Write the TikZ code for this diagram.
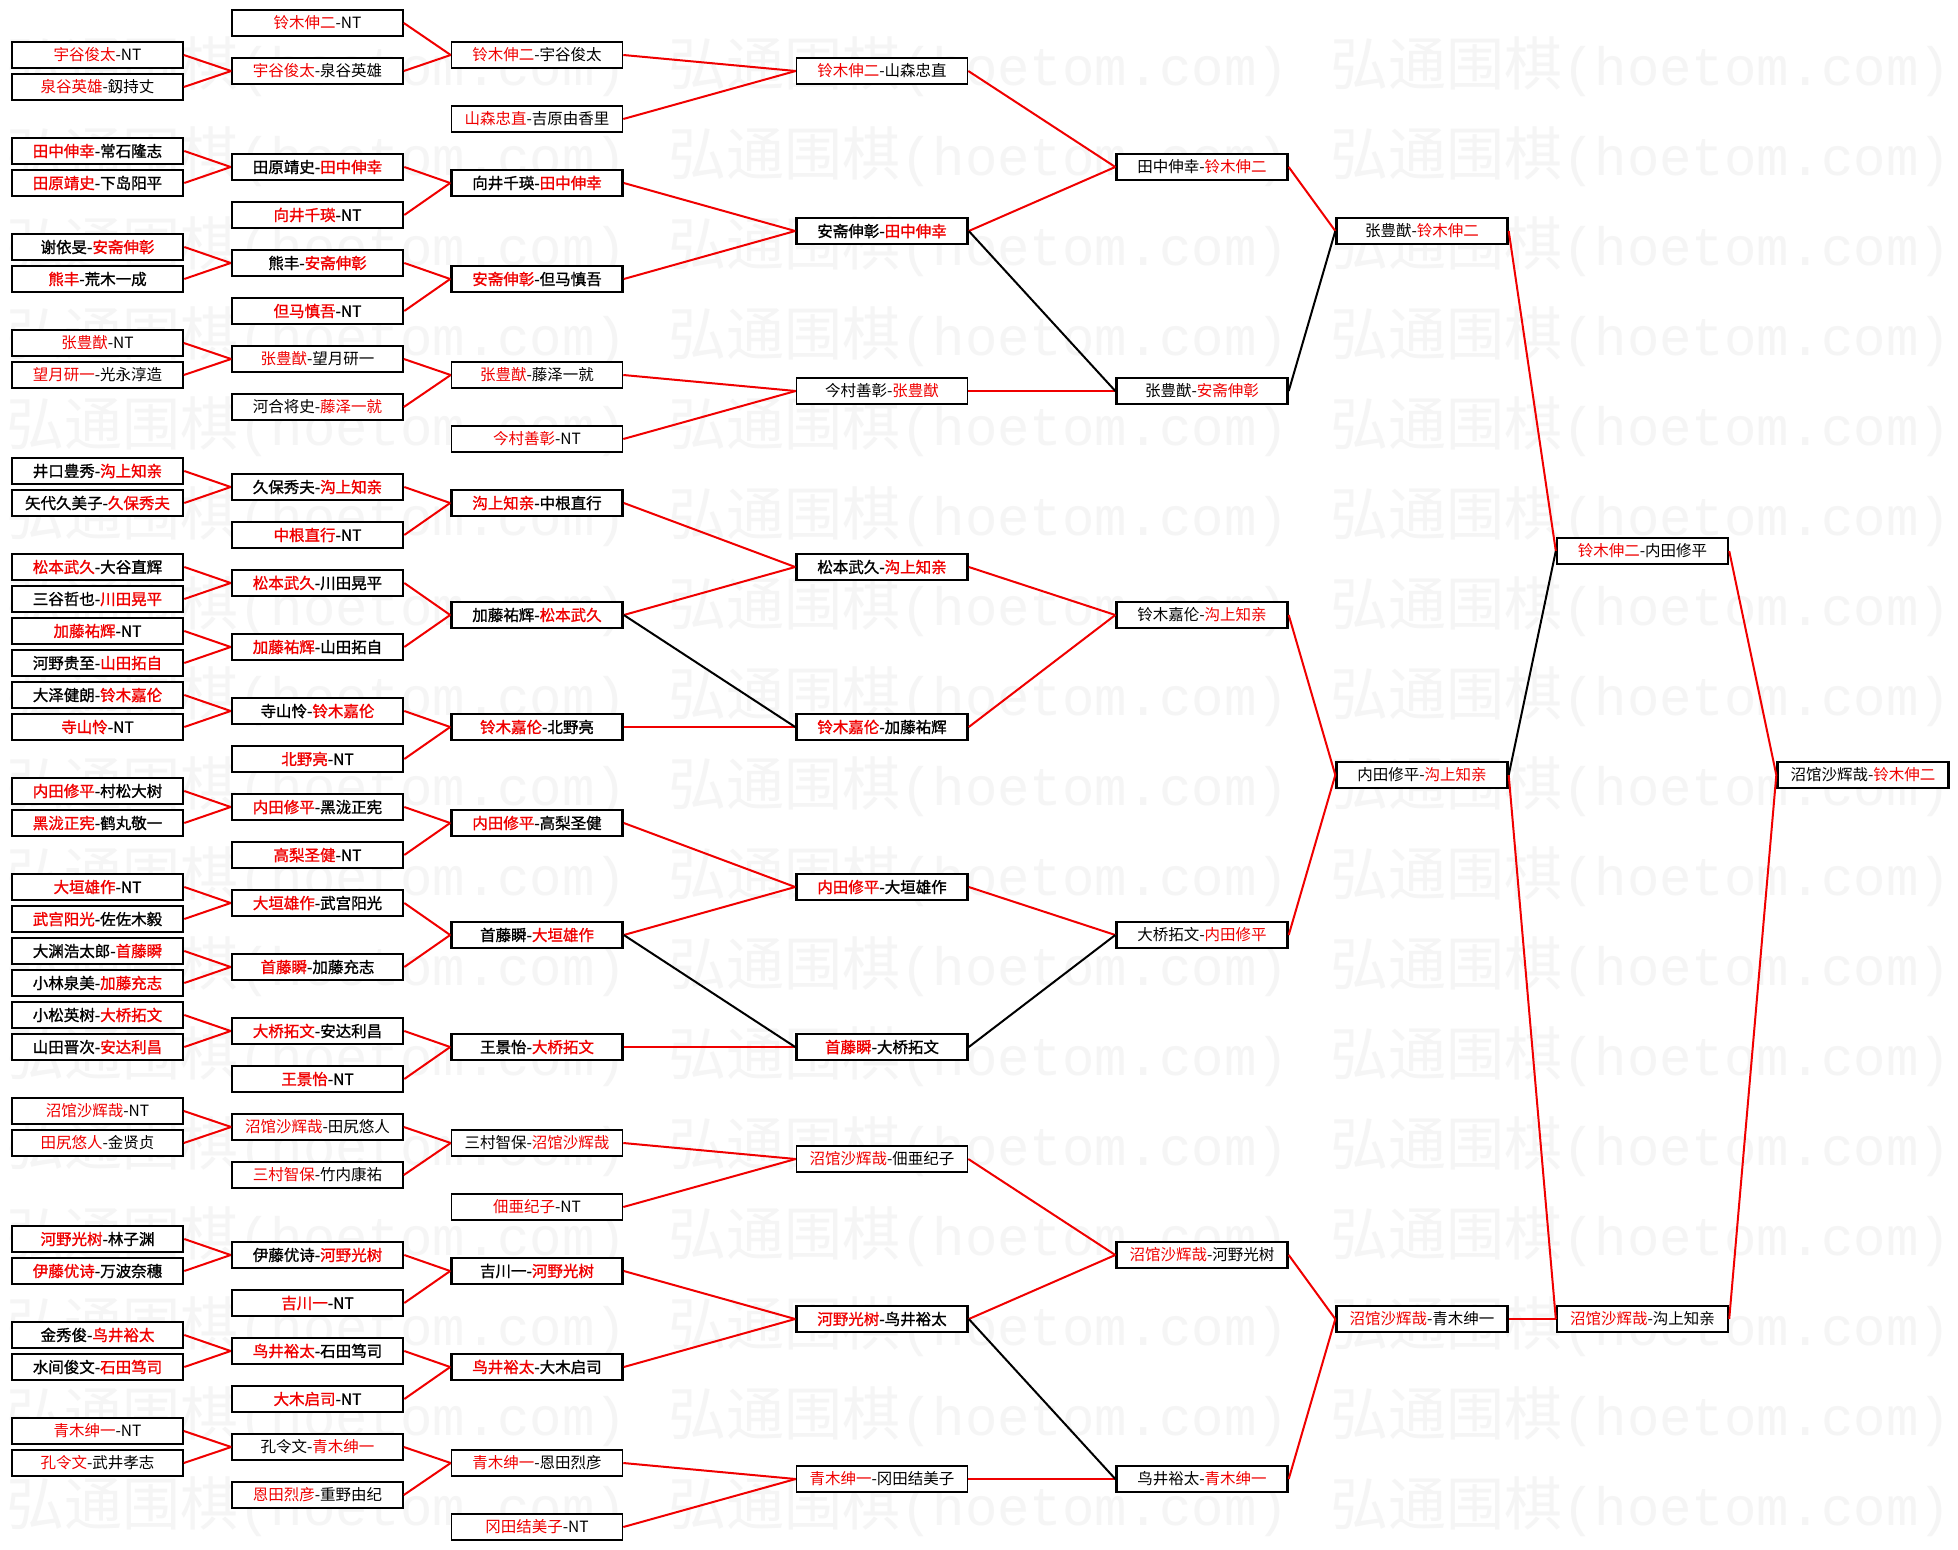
\documentclass[tikz,border=0pt]{standalone}
\usepackage{fontspec}
\newfontfamily\cjkl{Noto Sans CJK SC}
\newfontfamily\cjkb[FakeBold=1.2]{Noto Sans CJK SC}
\newfontfamily\wmmono{Liberation Mono}
\definecolor{wred}{RGB}{240,0,0}
\definecolor{wmark}{RGB}{245,245,245}
\newcommand\rn[1]{\textcolor{wred}{#1}}
\begin{document}
\begin{tikzpicture}[x=1pt,y=-1pt,
  lbox/.style={draw=black, fill=white, line width=1.6pt, minimum width=171pt, minimum height=26pt, inner sep=0pt, font=\cjkl\fontsize{15.5}{16}\selectfont},
  hbox/.style={lbox, line width=2.6pt, font=\cjkb\fontsize{15.5}{16}\selectfont},
  mbox/.style={lbox, line width=2.4pt},
  win/.style={draw=wred, line width=2pt},
  lose/.style={draw=black, line width=2pt},
  wm/.style={anchor=west, inner sep=0pt, text=wmark}
]
\useasboundingbox (0,0) rectangle (1958,1549);
\fill[white] (0,0) rectangle (1958,1549);
% watermark
\foreach \r in {0,...,16}{
  \foreach \x in {6,668,1330}{
    \node[wm] at ({\x},{67+90*\r}) {\cjkl\fontsize{58}{60}\selectfont 弘通围棋\wmmono\fontsize{54}{60}\selectfont (hoetom.com)};
  }
}
% column 1
\node[lbox] (a0) at (97.5,55) {\rn{宇谷俊太}-NT};
\node[lbox] (a1) at (97.5,87) {\rn{泉谷英雄}-釼持丈};
\node[hbox] (a3) at (97.5,151) {\rn{田中伸幸}-常石隆志};
\node[hbox] (a4) at (97.5,183) {\rn{田原靖史}-下岛阳平};
\node[hbox] (a6) at (97.5,247) {谢依旻-\rn{安斋伸彰}};
\node[hbox] (a7) at (97.5,279) {\rn{熊丰}-荒木一成};
\node[lbox] (a9) at (97.5,343) {\rn{张豊猷}-NT};
\node[lbox] (a10) at (97.5,375) {\rn{望月研一}-光永淳造};
\node[hbox] (a13) at (97.5,471) {井口豊秀-\rn{沟上知亲}};
\node[hbox] (a14) at (97.5,503) {矢代久美子-\rn{久保秀夫}};
\node[hbox] (a16) at (97.5,567) {\rn{松本武久}-大谷直辉};
\node[hbox] (a17) at (97.5,599) {三谷哲也-\rn{川田晃平}};
\node[hbox] (a18) at (97.5,631) {\rn{加藤祐辉}-NT};
\node[hbox] (a19) at (97.5,663) {河野贵至-\rn{山田拓自}};
\node[hbox] (a20) at (97.5,695) {大泽健朗-\rn{铃木嘉伦}};
\node[hbox] (a21) at (97.5,727) {\rn{寺山怜}-NT};
\node[hbox] (a23) at (97.5,791) {\rn{内田修平}-村松大树};
\node[hbox] (a24) at (97.5,823) {\rn{黑泷正宪}-鹤丸敬一};
\node[hbox] (a26) at (97.5,887) {\rn{大垣雄作}-NT};
\node[hbox] (a27) at (97.5,919) {\rn{武宫阳光}-佐佐木毅};
\node[hbox] (a28) at (97.5,951) {大渊浩太郎-\rn{首藤瞬}};
\node[hbox] (a29) at (97.5,983) {小林泉美-\rn{加藤充志}};
\node[hbox] (a30) at (97.5,1015) {小松英树-\rn{大桥拓文}};
\node[hbox] (a31) at (97.5,1047) {山田晋次-\rn{安达利昌}};
\node[lbox] (a33) at (97.5,1111) {\rn{沼馆沙辉哉}-NT};
\node[lbox] (a34) at (97.5,1143) {\rn{田尻悠人}-金贤贞};
\node[hbox] (a37) at (97.5,1239) {\rn{河野光树}-林子渊};
\node[hbox] (a38) at (97.5,1271) {\rn{伊藤优诗}-万波奈穗};
\node[hbox] (a40) at (97.5,1335) {金秀俊-\rn{鸟井裕太}};
\node[hbox] (a41) at (97.5,1367) {水间俊文-\rn{石田笃司}};
\node[lbox] (a43) at (97.5,1431) {\rn{青木绅一}-NT};
\node[lbox] (a44) at (97.5,1463) {\rn{孔令文}-武井孝志};
% column 2
\node[lbox] (b0) at (317.5,23) {\rn{铃木伸二}-NT};
\node[lbox] (b3) at (317.5,71) {\rn{宇谷俊太}-泉谷英雄};
\node[hbox] (b9) at (317.5,167) {田原靖史-\rn{田中伸幸}};
\node[hbox] (b12) at (317.5,215) {\rn{向井千瑛}-NT};
\node[hbox] (b15) at (317.5,263) {熊丰-\rn{安斋伸彰}};
\node[hbox] (b18) at (317.5,311) {\rn{但马慎吾}-NT};
\node[lbox] (b21) at (317.5,359) {\rn{张豊猷}-望月研一};
\node[lbox] (b24) at (317.5,407) {河合将史-\rn{藤泽一就}};
\node[hbox] (b29) at (317.5,487) {久保秀夫-\rn{沟上知亲}};
\node[hbox] (b32) at (317.5,535) {\rn{中根直行}-NT};
\node[hbox] (b35) at (317.5,583) {\rn{松本武久}-川田晃平};
\node[hbox] (b39) at (317.5,647) {\rn{加藤祐辉}-山田拓自};
\node[hbox] (b43) at (317.5,711) {寺山怜-\rn{铃木嘉伦}};
\node[hbox] (b46) at (317.5,759) {\rn{北野亮}-NT};
\node[hbox] (b49) at (317.5,807) {\rn{内田修平}-黑泷正宪};
\node[hbox] (b52) at (317.5,855) {\rn{高梨圣健}-NT};
\node[hbox] (b55) at (317.5,903) {\rn{大垣雄作}-武宫阳光};
\node[hbox] (b59) at (317.5,967) {\rn{首藤瞬}-加藤充志};
\node[hbox] (b63) at (317.5,1031) {\rn{大桥拓文}-安达利昌};
\node[hbox] (b66) at (317.5,1079) {\rn{王景怡}-NT};
\node[lbox] (b69) at (317.5,1127) {\rn{沼馆沙辉哉}-田尻悠人};
\node[lbox] (b72) at (317.5,1175) {\rn{三村智保}-竹内康祐};
\node[hbox] (b77) at (317.5,1255) {伊藤优诗-\rn{河野光树}};
\node[hbox] (b80) at (317.5,1303) {\rn{吉川一}-NT};
\node[hbox] (b83) at (317.5,1351) {\rn{鸟井裕太}-石田笃司};
\node[hbox] (b86) at (317.5,1399) {\rn{大木启司}-NT};
\node[lbox] (b89) at (317.5,1447) {孔令文-\rn{青木绅一}};
\node[lbox] (b92) at (317.5,1495) {\rn{恩田烈彦}-重野由纪};
% column 3
\node[lbox] (c1) at (537,55) {\rn{铃木伸二}-宇谷俊太};
\node[lbox] (c2) at (537,119) {\rn{山森忠直}-吉原由香里};
\node[hbox] (c3) at (537,183) {向井千瑛-\rn{田中伸幸}};
\node[hbox] (c4) at (537,279) {\rn{安斋伸彰}-但马慎吾};
\node[lbox] (c5) at (537,375) {\rn{张豊猷}-藤泽一就};
\node[lbox] (c6) at (537,439) {\rn{今村善彰}-NT};
\node[hbox] (c7) at (537,503) {\rn{沟上知亲}-中根直行};
\node[hbox] (c8) at (537,615) {加藤祐辉-\rn{松本武久}};
\node[hbox] (c9) at (537,727) {\rn{铃木嘉伦}-北野亮};
\node[hbox] (c10) at (537,823) {\rn{内田修平}-高梨圣健};
\node[hbox] (c11) at (537,935) {首藤瞬-\rn{大垣雄作}};
\node[hbox] (c12) at (537,1047) {王景怡-\rn{大桥拓文}};
\node[lbox] (c13) at (537,1143) {三村智保-\rn{沼馆沙辉哉}};
\node[lbox] (c14) at (537,1207) {\rn{佃亜纪子}-NT};
\node[hbox] (c15) at (537,1271) {吉川一-\rn{河野光树}};
\node[hbox] (c16) at (537,1367) {\rn{鸟井裕太}-大木启司};
\node[lbox] (c17) at (537,1463) {\rn{青木绅一}-恩田烈彦};
\node[lbox] (c18) at (537,1527) {\rn{冈田结美子}-NT};
% column 4
\node[lbox] (d1) at (882,71) {\rn{铃木伸二}-山森忠直};
\node[hbox] (d2) at (882,231) {安斋伸彰-\rn{田中伸幸}};
\node[lbox] (d3) at (882,391) {今村善彰-\rn{张豊猷}};
\node[hbox] (d4) at (882,567) {松本武久-\rn{沟上知亲}};
\node[hbox] (d5) at (882,727) {\rn{铃木嘉伦}-加藤祐辉};
\node[hbox] (d6) at (882,887) {\rn{内田修平}-大垣雄作};
\node[hbox] (d7) at (882,1047) {\rn{首藤瞬}-大桥拓文};
\node[lbox] (d8) at (882,1159) {\rn{沼馆沙辉哉}-佃亜纪子};
\node[hbox] (d9) at (882,1319) {\rn{河野光树}-鸟井裕太};
\node[lbox] (d10) at (882,1479) {\rn{青木绅一}-冈田结美子};
% column 5
\node[mbox] (e1) at (1202,167) {田中伸幸-\rn{铃木伸二}};
\node[mbox] (e2) at (1202,391) {张豊猷-\rn{安斋伸彰}};
\node[mbox] (e3) at (1202,615) {铃木嘉伦-\rn{沟上知亲}};
\node[mbox] (e4) at (1202,935) {大桥拓文-\rn{内田修平}};
\node[mbox] (e5) at (1202,1255) {\rn{沼馆沙辉哉}-河野光树};
\node[mbox] (e6) at (1202,1479) {鸟井裕太-\rn{青木绅一}};
% column 6
\node[mbox] (f1) at (1422,231) {张豊猷-\rn{铃木伸二}};
\node[mbox] (f2) at (1422,775) {内田修平-\rn{沟上知亲}};
\node[mbox] (f3) at (1422,1319) {\rn{沼馆沙辉哉}-青木绅一};
% column 7
\node[mbox] (g1) at (1642.5,551) {\rn{铃木伸二}-内田修平};
\node[mbox] (g2) at (1642.5,1319) {\rn{沼馆沙辉哉}-沟上知亲};
% column 8
\node[mbox] (h1) at (1863,775) {沼馆沙辉哉-\rn{铃木伸二}};
% connectors column 1 -> 2
\foreach \p/\q in {a0/b3,a1/b3,a3/b9,a4/b9,a6/b15,a7/b15,a9/b21,a10/b21,a13/b29,a14/b29,a16/b35,a17/b35,a18/b39,a19/b39,a20/b43,a21/b43,a23/b49,a24/b49,a26/b55,a27/b55,a28/b59,a29/b59,a30/b63,a31/b63,a33/b69,a34/b69,a37/b77,a38/b77,a40/b83,a41/b83,a43/b89,a44/b89}
  \draw[win] (\p.east) -- (\q.west);
% column 2 -> 3
\foreach \p/\q in {b0/c1,b3/c1,b9/c3,b12/c3,b15/c4,b18/c4,b21/c5,b24/c5,b29/c7,b32/c7,b35/c8,b39/c8,b43/c9,b46/c9,b49/c10,b52/c10,b55/c11,b59/c11,b63/c12,b66/c12,b69/c13,b72/c13,b77/c15,b80/c15,b83/c16,b86/c16,b89/c17,b92/c17}
  \draw[win] (\p.east) -- (\q.west);
% column 3 -> 4
\foreach \p/\q in {c1/d1,c2/d1,c3/d2,c4/d2,c5/d3,c6/d3,c7/d4,c8/d4,c9/d5,c10/d6,c11/d6,c12/d7,c13/d8,c14/d8,c15/d9,c16/d9,c17/d10,c18/d10}
  \draw[win] (\p.east) -- (\q.west);
\draw[lose] (c8.east) -- (d5.west);
\draw[lose] (c11.east) -- (d7.west);
% column 4 -> 5
\foreach \p/\q in {d1/e1,d2/e1,d3/e2,d4/e3,d5/e3,d6/e4,d8/e5,d9/e5,d10/e6}
  \draw[win] (\p.east) -- (\q.west);
\draw[lose] (d2.east) -- (e2.west);
\draw[lose] (d7.east) -- (e4.west);
\draw[lose] (d9.east) -- (e6.west);
% column 5 -> 6
\foreach \p/\q in {e1/f1,e3/f2,e4/f2,e5/f3,e6/f3}
  \draw[win] (\p.east) -- (\q.west);
\draw[lose] (e2.east) -- (f1.west);
% column 6 -> 7
\foreach \p/\q in {f1/g1,f2/g2,f3/g2}
  \draw[win] (\p.east) -- (\q.west);
\draw[lose] (f2.east) -- (g1.west);
% column 7 -> 8
\draw[win] (g1.east) -- (h1.west);
\draw[win] (g2.east) -- (h1.west);
\end{tikzpicture}
\end{document}
